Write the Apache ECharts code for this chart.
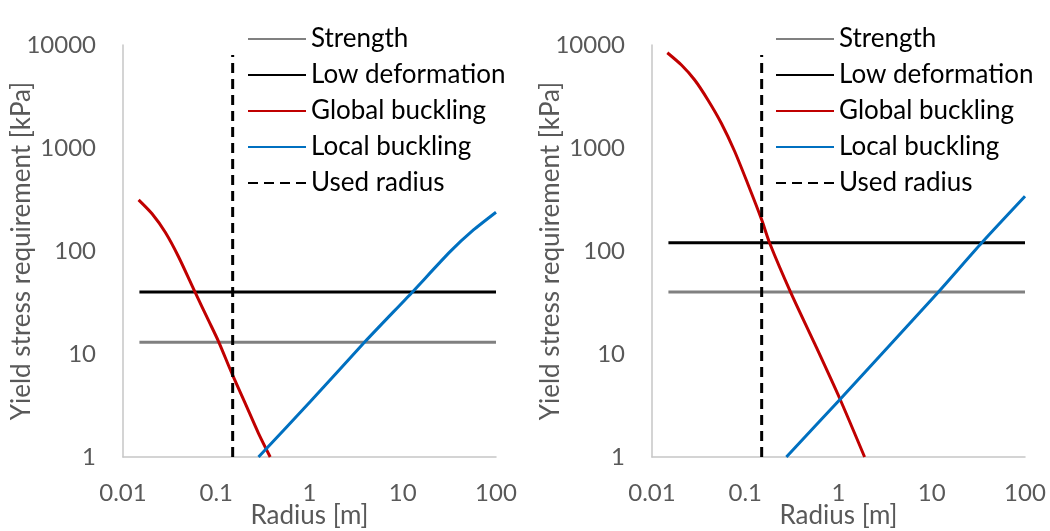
<!DOCTYPE html>
<html>
<head>
<meta charset="utf-8">
<script src="https://cdn.jsdelivr.net/npm/echarts@6/dist/echarts.min.js"></script>
<style>
  html, body { margin: 0; padding: 0; background: #fff; }
  #chart { width: 1050px; height: 531px; }
</style>
</head>
<body>
<div id="chart"></div>
<script>
// Series names shared by both panels
const seriesNames = ['Strength', 'Low deformation', 'Global buckling', 'Local buckling', 'Used radius'];

// Axis tick labels (log10 exponent -> label)
const xTickLabels = ['0.01', '0.1', '1', '10', '100'];   // exponents -2..2
const yTickLabels = ['1', '10', '100', '1000', '10000']; // exponents 0..4

// Radius span of the horizontal requirement lines [m]
const radiusSpan = [0.015, 100];
// Chosen radius [m] and top of its marker line [kPa]
const usedRadius = 0.15;
const usedRadiusTop = 8000;

// Left panel: [radius m, stress kPa]
const strengthA = 13;
const lowDeformationA = 40;
const globalBucklingA = [
  [0.0147, 314], [0.0205, 230], [0.0284, 152], [0.0394, 88], [0.0596, 39.4],
  [0.0826, 21.2], [0.1059, 13.2], [0.147, 6.5], [0.2046, 3.32], [0.2838, 1.7], [0.379, 1.0]
];
const localBucklingA = [
  [0.284, 1.0], [1.016, 3.44], [3.95, 13.2], [12.5, 39.4], [32.2, 98.5], [57.3, 160], [100, 238]
];

// Right panel: [radius m, stress kPa]
const strengthB = 40;
const lowDeformationB = 120;
const globalBucklingB = [
  [0.0146, 8410], [0.0207, 6390], [0.0287, 4570], [0.0398, 2925], [0.0554, 1738],
  [0.0769, 930], [0.1069, 445], [0.1489, 205], [0.183, 119], [0.307, 39.7],
  [0.555, 12.6], [1.028, 3.72], [1.905, 1.0]
];
const localBucklingB = [
  [0.276, 1.0], [1.03, 3.6], [11.6, 39.4], [34, 119], [100, 340]
];

const FONT = 'Lato';
const LABEL_GREY = '#595959';
const AXIS_GREY = '#c6c6c6';
const COLORS = {
  'Strength': '#808080',
  'Low deformation': '#000000',
  'Global buckling': '#c00000',
  'Local buckling': '#0070c0',
  'Used radius': '#000000'
};

function tickFromList(list, offset) {
  return function (v) {
    const i = Math.round(Math.log10(v)) + offset;
    return list[i] !== undefined ? list[i] : '';
  };
}

function xAxisFor(gridIndex) {
  return {
    type: 'log', logBase: 10, min: 0.01, max: 100, gridIndex,
    name: 'Radius [m]', nameLocation: 'middle', nameGap: 46, nameMoveOverlap: false,
    nameTextStyle: { fontFamily: FONT, fontSize: 26, color: LABEL_GREY },
    axisLine: { show: true, lineStyle: { color: AXIS_GREY, width: 1.5 } },
    axisTick: { show: false },
    splitLine: { show: false },
    minorTick: { show: false },
    axisLabel: {
      fontFamily: FONT, fontSize: 24, color: LABEL_GREY, margin: 24,
      showMinLabel: true, showMaxLabel: true, hideOverlap: false,
      formatter: tickFromList(xTickLabels, 2)
    }
  };
}

function yAxisFor(gridIndex) {
  return {
    type: 'log', logBase: 10, min: 1, max: 10000, gridIndex,
    name: 'Yield stress requirement [kPa]', nameLocation: 'middle', nameGap: 88, nameRotate: 90,
    nameMoveOverlap: false,
    nameTextStyle: { fontFamily: FONT, fontSize: 26, color: LABEL_GREY },
    axisLine: { show: true, lineStyle: { color: AXIS_GREY, width: 1.5 } },
    axisTick: { show: false },
    splitLine: { show: false },
    axisLabel: {
      fontFamily: FONT, fontSize: 24, color: LABEL_GREY, margin: 27,
      showMinLabel: true, showMaxLabel: true, hideOverlap: false,
      formatter: tickFromList(yTickLabels, 0)
    }
  };
}

function line(name, data, idx, extra) {
  return Object.assign({
    type: 'line', name, data,
    xAxisIndex: idx, yAxisIndex: idx,
    showSymbol: false, symbol: 'none',
    clip: true, animation: false,
    lineStyle: { color: COLORS[name], width: 3 },
    itemStyle: { color: COLORS[name] },
    emphasis: { disabled: true }
  }, extra || {});
}

function panelSeries(idx, strength, lowDef, globalB, localB) {
  return [
    line('Strength', [[radiusSpan[0], strength], [radiusSpan[1], strength]], idx),
    line('Low deformation', [[radiusSpan[0], lowDef], [radiusSpan[1], lowDef]], idx),
    line('Global buckling', globalB, idx, { smooth: 0.25 }),
    line('Local buckling', localB, idx, { smooth: 0.2 }),
    line('Used radius', [[usedRadius, 1], [usedRadius, usedRadiusTop]], idx, {
      lineStyle: { color: COLORS['Used radius'], width: 3, type: [10, 6] }
    })
  ];
}

function legendAt(left) {
  return {
    orient: 'vertical', left, top: 26, padding: 0,
    itemWidth: 58, itemHeight: 14, itemGap: 10,
    selectedMode: false,
    itemStyle: { opacity: 0 },
    textStyle: { fontFamily: FONT, fontSize: 26, color: '#000', lineHeight: 26 },
    data: seriesNames
  };
}

const chart = echarts.init(document.getElementById('chart'), null, { renderer: 'canvas' });
chart.setOption({
  backgroundColor: '#ffffff',
  animation: false,
  grid: [
    { left: 123, right: 554, top: 45, bottom: 74, outerBoundsMode: 'none', containLabel: false },
    { left: 652, right: 25, top: 45, bottom: 74, outerBoundsMode: 'none', containLabel: false }
  ],
  xAxis: [xAxisFor(0), xAxisFor(1)],
  yAxis: [yAxisFor(0), yAxisFor(1)],
  legend: [legendAt(247), legendAt(775)],
  series: [
    ...panelSeries(0, strengthA, lowDeformationA, globalBucklingA, localBucklingA),
    ...panelSeries(1, strengthB, lowDeformationB, globalBucklingB, localBucklingB)
  ]
});
</script>
</body>
</html>
